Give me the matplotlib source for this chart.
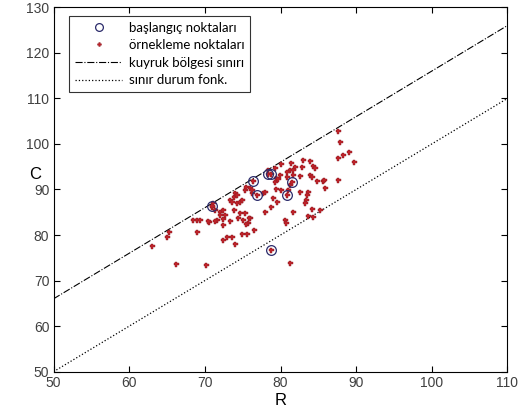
import matplotlib.pyplot as plt
import numpy as np

# baslangic noktalari (start points)
R_bas = [70.9, 76.4, 76.9, 78.3, 78.7, 81.5, 80.9, 78.7]
C_bas = [86.4, 91.9, 88.8, 93.4, 93.3, 91.6, 88.7, 76.7]

# ornekleme noktalari (sampling points)
R_orn = [63.0, 65.2, 65.0, 66.2, 70.2, 68.5, 68.9, 69.4, 69.0, 70.5, 71.6, 70.9,
         71.1, 71.3, 72.0, 72.4, 72.7, 72.0, 73.3, 73.6, 73.8, 74.0, 74.2, 74.2,
         74.6, 74.9, 75.3, 75.5, 76.0, 76.2, 73.8, 74.6, 75.3, 74.4, 75.1, 76.0,
         75.7, 70.4, 71.3, 72.4, 73.3, 72.4, 72.4, 72.9, 73.6, 74.0, 74.9, 75.6,
         75.4, 87.6, 87.9, 87.6, 88.3, 89.1, 89.7, 87.6, 81.4, 81.9, 81.3, 81.7,
         83.0, 83.9, 82.8, 84.3, 84.6, 82.6, 83.9, 84.1, 84.8, 85.6, 85.9, 83.7,
         83.5, 83.4, 83.2, 84.1, 85.2, 83.7, 84.3, 81.7, 80.6, 80.7, 76.5, 75.9,
         77.9, 78.8, 79.5, 79.0, 79.4, 80.0, 77.7, 77.9, 81.2, 79.3, 79.4, 79.7,
         79.9, 80.8, 80.8, 81.7, 80.0, 79.3, 78.4, 82.6, 81.3, 81.0, 76.2, 85.7,
         70.9, 76.4, 76.9, 78.3, 78.7, 81.5, 80.9, 78.7]
C_orn = [77.6, 80.6, 79.6, 73.6, 73.4, 83.2, 83.2, 83.2, 80.7, 82.9, 83.2, 86.2,
         87.0, 85.5, 85.1, 85.5, 84.4, 84.4, 87.7, 87.3, 88.4, 89.2, 88.8, 87.0,
         87.3, 87.7, 89.9, 90.6, 90.3, 89.2, 85.5, 84.8, 84.8, 83.7, 83.3, 83.7,
         82.6, 83.1, 83.1, 83.5, 83.1, 82.2, 78.9, 79.6, 79.5, 78.0, 80.2, 80.2,
         82.4, 102.9, 100.5, 96.9, 97.6, 98.2, 96.1, 92.1, 95.9, 95.0, 94.3, 94.3,
         96.5, 96.3, 94.9, 95.2, 94.7, 93.0, 93.2, 92.8, 91.9, 91.9, 90.3, 89.5,
         88.8, 87.8, 87.1, 85.7, 85.5, 84.2, 83.9, 85.0, 83.3, 82.7, 81.1, 83.7,
         85.1, 86.2, 87.3, 88.1, 90.0, 89.9, 89.2, 89.5, 73.8, 91.7, 92.5, 92.2,
         93.2, 93.9, 92.8, 93.2, 95.5, 94.7, 94.3, 89.5, 91.0, 89.9, 89.9, 92.1,
         86.4, 91.9, 88.8, 93.4, 93.3, 91.6, 88.7, 76.7]

# sinir cizgileri
R_line = [50, 110]
C_kuyruk = [66, 126]
C_sinir = [50, 110]

fig = plt.figure(figsize=(5.31, 4.19), dpi=100)
ax = fig.add_axes([0.1008, 0.1129, 0.8549, 0.8697])

ax.plot(R_bas, C_bas, 'o', mfc='none', mec='#2b2b6b', ms=7, mew=0.9,
        label='başlangıç noktaları', zorder=4)
ax.plot(R_orn, C_orn, 'P', color='#c0232a', mec='#8a1a22', ms=3.6, mew=0.3,
        label='örnekleme noktaları', zorder=3)
ax.plot(R_line, C_kuyruk, color='black', linestyle='-.', linewidth=0.8,
        label='kuyruk bölgesi sınırı')
ax.plot(R_line, C_sinir, color='black', linestyle=':', linewidth=0.9,
        label='sınır durum fonk.')

ax.set_xlim(50, 110)
ax.set_ylim(50, 130)
ax.set_xticks(np.arange(50, 111, 10))
ax.set_yticks(np.arange(50, 131, 10))
ax.tick_params(direction='in', top=True, right=True, length=4, width=0.8,
               labelsize=10, labelcolor='#404040', pad=3)
for lab in ax.get_xticklabels() + ax.get_yticklabels():
    lab.set_family('Liberation Sans')
for s in ax.spines.values():
    s.set_linewidth(0.8)

ax.set_xlabel('R', fontsize=12, family='Liberation Sans', labelpad=2)
ax.set_ylabel('C', fontsize=12, family='Liberation Sans', rotation=0, labelpad=-2)
ax.yaxis.set_label_coords(-0.04, 0.52)

leg = ax.legend(loc='upper left', bbox_to_anchor=(0.025, 0.988), fancybox=False,
                edgecolor='black', prop={'family': 'Lato', 'size': 9.5},
                handlelength=3.6, borderpad=0.45, labelspacing=0.42,
                handletextpad=0.5, borderaxespad=0.3, markerscale=0.8)
leg.get_frame().set_linewidth(0.8)

fig.savefig('out.png', dpi=100)
